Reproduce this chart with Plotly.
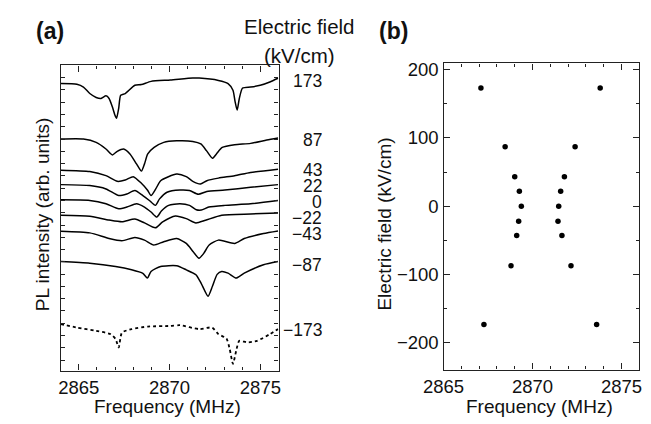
import plotly.graph_objects as go

# ---------------- data ----------------
fields = [173, 87, 43, 22, 0, -22, -43, -87, -173]
field_labels = ["173", "87", "43", "22", "0", "\u221222", "\u221243", "\u221287", "\u2212173"]

# panel (a): PL spectra (offset vertically, arb. units)
freq_p173 = [2864.02, 2864.90, 2865.26, 2865.61, 2865.96, 2866.23, 2866.50, 2866.67, 2866.85, 2866.99,
             2867.08, 2867.20, 2867.31, 2867.56, 2868.09, 2868.45, 2868.98, 2870.04, 2871.28, 2871.63,
             2872.69, 2873.22, 2873.49, 2873.61, 2873.72, 2873.84, 2874.02, 2874.46, 2874.99, 2875.52, 2875.97]
pl_p173 = [22.52, 22.46, 22.24, 21.71, 21.39, 21.31, 21.52, 21.31, 20.63, 19.96,
           19.69, 20.50, 21.57, 21.71, 22.38, 22.44, 22.70, 22.81, 22.97, 22.97,
           22.78, 22.52, 21.98, 21.03, 20.36, 21.31, 22.16, 22.24, 22.38, 22.65, 22.95]

freq_p87 = [2864.02, 2865.26, 2865.96, 2866.50, 2866.85, 2867.12, 2867.47, 2867.82, 2868.18, 2868.45,
            2868.62, 2868.80, 2869.15, 2869.68, 2870.39, 2871.28, 2871.72, 2872.03, 2872.36, 2872.58,
            2872.90, 2873.58, 2874.46, 2875.35, 2875.97]
pl_p87 = [18.00, 18.00, 17.73, 17.19, 16.71, 17.00, 17.19, 16.79, 15.98, 15.39,
          15.98, 16.79, 17.32, 17.73, 17.86, 17.81, 17.60, 17.06, 16.44, 16.79,
          17.32, 17.54, 17.65, 17.92, 18.08]

freq_p43 = [2864.02, 2865.61, 2866.50, 2867.12, 2867.56, 2868.00, 2868.45, 2868.80, 2868.98, 2869.24,
            2869.51, 2870.39, 2870.92, 2871.28, 2871.70, 2872.05, 2872.69, 2873.58, 2874.46, 2875.97]
pl_p43 = [15.47, 15.36, 15.02, 14.56, 14.66, 14.94, 14.40, 13.81, 13.40, 13.94,
          14.61, 15.15, 14.94, 14.56, 14.34, 14.61, 14.82, 15.02, 15.28, 15.55]

freq_p22 = [2864.02, 2865.61, 2866.50, 2867.20, 2867.65, 2868.09, 2868.53, 2868.89, 2869.22, 2869.45,
            2869.86, 2870.57, 2871.10, 2871.58, 2872.05, 2873.04, 2874.46, 2875.97]
pl_p22 = [14.29, 14.21, 13.94, 13.40, 13.53, 13.81, 13.40, 13.00, 12.60, 13.13,
          13.67, 13.85, 13.81, 13.50, 13.73, 13.85, 14.07, 14.29]

freq_p0 = [2864.02, 2865.61, 2866.50, 2867.20, 2867.65, 2868.18, 2868.62, 2868.98, 2869.30, 2869.55,
           2869.95, 2870.57, 2871.10, 2871.47, 2871.75, 2872.16, 2873.04, 2874.46, 2875.97]
pl_p0 = [13.05, 13.00, 12.73, 12.32, 12.46, 12.73, 12.46, 12.06, 11.65, 12.14,
         12.60, 12.73, 12.60, 12.25, 12.22, 12.46, 12.60, 12.73, 13.00]

freq_m22 = [2864.02, 2865.61, 2866.67, 2867.38, 2868.09, 2868.62, 2869.22, 2869.62, 2870.32, 2870.92,
            2871.45, 2871.98, 2872.87, 2874.46, 2875.97]
pl_m22 = [11.79, 11.71, 11.41, 11.27, 11.49, 11.17, 10.77, 11.25, 11.73, 11.52,
          11.17, 11.39, 11.79, 11.90, 11.98]

freq_m43 = [2864.02, 2865.61, 2866.67, 2867.38, 2868.09, 2868.62, 2869.13, 2869.68, 2870.39, 2870.92,
            2871.30, 2871.62, 2871.88, 2872.18, 2872.69, 2873.58, 2874.11, 2875.17, 2875.97]
pl_m43 = [10.50, 10.36, 9.90, 9.72, 9.98, 9.77, 9.37, 9.64, 9.90, 9.50,
          8.83, 8.29, 8.69, 9.37, 9.77, 9.50, 9.90, 10.31, 10.52]

freq_m87 = [2864.02, 2865.61, 2867.03, 2867.91, 2868.53, 2868.78, 2868.98, 2869.51, 2870.39, 2870.92,
            2871.45, 2871.74, 2872.12, 2872.36, 2872.62, 2872.87, 2873.22, 2873.67, 2874.11, 2875.17, 2875.97]
pl_m87 = [8.02, 7.89, 7.62, 7.35, 7.06, 6.68, 7.22, 7.62, 7.68, 7.35,
          6.95, 6.25, 5.20, 6.01, 6.98, 7.22, 7.08, 6.68, 7.08, 7.76, 8.02]

freq_m173 = [2864.02, 2864.90, 2865.96, 2866.76, 2867.03, 2867.20, 2867.38, 2867.91, 2868.80, 2870.04,
             2870.57, 2871.63, 2872.34, 2872.69, 2873.13, 2873.31, 2873.49, 2873.67, 2873.84, 2874.29,
             2874.82, 2875.52, 2875.97]
pl_m173 = [2.92, 2.65, 2.38, 2.11, 1.71, 1.03, 2.24, 2.52, 2.73, 2.78,
           2.84, 2.52, 2.65, 2.11, 1.76, 0.90, -0.31, 0.77, 1.57, 1.44,
           1.57, 2.11, 2.52]

spectra = [
    (freq_p173, pl_p173), (freq_p87, pl_p87), (freq_p43, pl_p43), (freq_p22, pl_p22),
    (freq_p0, pl_p0), (freq_m22, pl_m22), (freq_m43, pl_m43), (freq_m87, pl_m87),
    (freq_m173, pl_m173),
]

# panel (b): dip positions
dip_low = [2867.10, 2868.46, 2869.00, 2869.26, 2869.37, 2869.22, 2869.11, 2868.79, 2867.27]
dip_high = [2873.80, 2872.39, 2871.79, 2871.58, 2871.47, 2871.43, 2871.65, 2872.16, 2873.60]

# ---------------- figure ----------------
W, H = 651, 424
FONT = "Liberation Sans, Arial, sans-serif"
AX = "#222222"

def px(x):
    return x / W

def py(y):
    return 1 - y / H

fig = go.Figure()

for i, (fx, fy) in enumerate(spectra):
    dotted = fields[i] == -173
    fig.add_trace(go.Scatter(
        x=fx, y=fy, xaxis="x", yaxis="y", mode="lines",
        line=dict(color="black", width=1.8 if dotted else 1.5, dash="dot" if dotted else "solid",
                  shape="spline", smoothing=0.6),
        showlegend=False, hoverinfo="skip"))

fig.add_trace(go.Scatter(
    x=dip_low + dip_high, y=fields + fields, xaxis="x2", yaxis="y2", mode="markers",
    marker=dict(color="black", size=5.5), showlegend=False))

common_axis = dict(showline=True, linecolor=AX, linewidth=1.4, mirror="ticks",
                   ticks="inside", tickcolor=AX, tickwidth=1.2, showgrid=False, zeroline=False,
                   tickfont=dict(family=FONT, size=18.5, color="#111111"))

fig.update_layout(
    width=W, height=H, margin=dict(l=0, r=0, t=0, b=0),
    paper_bgcolor="white", plot_bgcolor="white",
    xaxis=dict(domain=[px(41), px(267)], range=[2864, 2876], anchor="y",
               tickvals=[2865, 2870, 2875], ticklen=6,
               minor=dict(dtick=1, tick0=2864, ticks="inside", ticklen=3, tickcolor=AX, showgrid=False),
               **common_axis),
    yaxis=dict(domain=[py(370), py(62)], range=[-0.85, 24.0], anchor="x",
               tick0=0, dtick=1, ticklen=4, showticklabels=False, **common_axis),
    xaxis2=dict(domain=[px(438), px(641)], range=[2865, 2876], anchor="y2",
                tickvals=[2865, 2870, 2875], ticklen=6,
                minor=dict(dtick=1, tick0=2865, ticks="inside", ticklen=3, tickcolor=AX, showgrid=False),
                **common_axis),
    yaxis2=dict(domain=[py(369), py(60)], range=[-239, 209], anchor="x2",
                tickvals=[-200, -100, 0, 100, 200], ticktext=["\u2212200", "\u2212100", "0", "100", "200"],
                ticklen=6,
                minor=dict(dtick=50, tick0=0, ticks="inside", ticklen=3, tickcolor=AX, showgrid=False),
                **common_axis),
)

ann = []
def text(x, y, s, size, anchor="center", bold=False, angle=0, height=None):
    a = dict(x=px(x), y=py(y), xref="paper", yref="paper", text=("<b>%s</b>" % s) if bold else s,
             showarrow=False, xanchor=anchor, yanchor="middle", textangle=angle,
             font=dict(family=FONT, size=size, color="#111111"))
    if height is not None:
        a["height"] = height
        a["borderpad"] = 0
        a["valign"] = "middle"
    ann.append(a)

label_y = [77, 137, 167, 183, 199, 216, 232, 263, 329]
for lab, yy in zip(field_labels, label_y):
    text(313, yy, lab, 17.5, anchor="right", height=15)

text(30, 27, "(a)", 23, bold=True)
text(386, 27, "(b)", 23, bold=True)
text(289, 23, "Electric field", 20.5)
text(289, 52, "(kV/cm)", 20.5)
text(152, 406, "Frequency (MHz)", 19)
text(538, 406, "Frequency (MHz)", 19)
text(22, 212, "PL intensity (arb. units)", 19, angle=-90)
text(377, 222, "Electric field (kV/cm)", 19, angle=-90)

fig.update_layout(annotations=ann)
fig.write_html(
    "out.html",
    config={"displayModeBar": False},
    post_script="document.body.style.margin='0';document.body.style.overflow='hidden';",
)
